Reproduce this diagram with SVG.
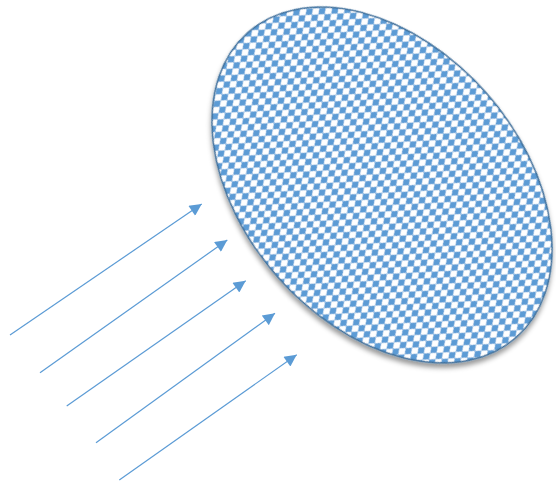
<svg xmlns="http://www.w3.org/2000/svg" width="556" height="482" viewBox="0 0 556 482">
<style>
.ray{stroke:#5B9BD5;stroke-width:1.2;fill:none;marker-end:url(#ah)}
.disc{fill:url(#dia);stroke:#41719C;stroke-width:1.5}
</style>
<defs>
<pattern id="dia" width="8" height="10" patternUnits="userSpaceOnUse">
<rect width="8" height="10" fill="#ffffff"/>
<polygon points="4,0 8,5 4,10 0,5" fill="#5B9BD5"/>
</pattern>
<marker id="ah" viewBox="0 0 10 10" refX="10" refY="5" markerWidth="14" markerHeight="12" markerUnits="userSpaceOnUse" orient="auto">
<path d="M0,0 L10,5 L0,10 z" fill="#5B9BD5"/>
</marker>
<filter id="sh" x="-10%" y="-10%" width="130%" height="130%">
<feDropShadow dx="3" dy="3" stdDeviation="2.5" flood-color="#000" flood-opacity="0.4"/>
</filter>
</defs>
<g id="disc">
<ellipse class="disc" cx="382" cy="185" rx="203" ry="139" transform="rotate(48.6 382 185)" filter="url(#sh)"/>
</g>
<g id="connectors">
<line class="ray" x1="10" y1="335" x2="201.7" y2="204"/>
<line class="ray" x1="40" y1="372.7" x2="227.3" y2="240"/>
<line class="ray" x1="66.7" y1="406" x2="245.7" y2="280.7"/>
<line class="ray" x1="96" y1="442.7" x2="275" y2="313.3"/>
<line class="ray" x1="119.3" y1="480" x2="296.7" y2="354.7"/>
</g>
</svg>
